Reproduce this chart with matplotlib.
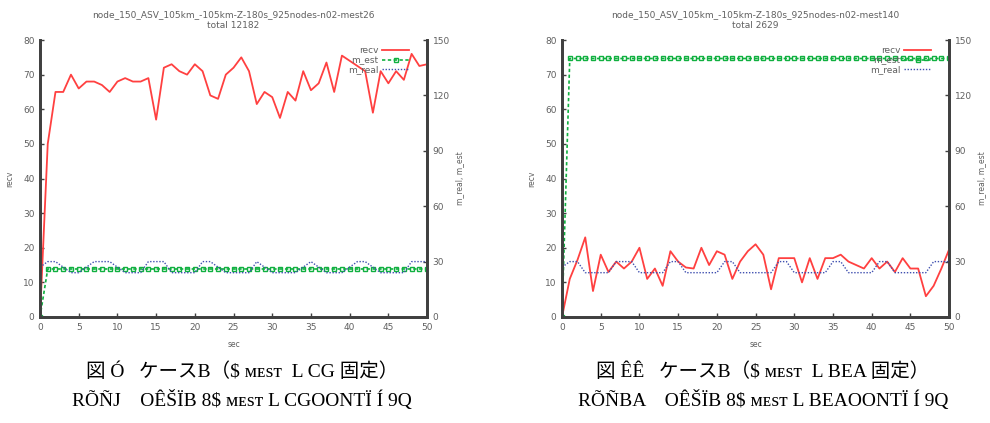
import matplotlib
matplotlib.use("Agg")
import matplotlib.pyplot as plt

sec = list(range(51))

# Left panel (mest26)
recv_a = [0, 50, 65, 65, 70, 66, 68, 68, 67, 65, 68, 69, 68, 68, 69, 57, 72, 73, 71, 70, 73, 71,
          64, 63, 70, 72, 75, 71, 61.5, 65, 63.5, 57.5, 65, 62.5, 71, 65.5, 67.5, 73.5, 65, 75.5,
          74, 72.5, 71, 59, 71, 67.5, 71, 68.5, 76, 72.5, 73]
mest_a = [0] + [26] * 50
mreal_a = [27, 30, 30, 27, 24, 24, 27, 30, 30, 30, 27, 24, 24, 24, 30, 30, 30, 24, 24, 24, 24,
           30, 30, 27, 24, 24, 24, 24, 30, 27, 24, 24, 24, 24, 27, 30, 27, 24, 24, 24, 27, 30,
           30, 27, 24, 24, 24, 24, 30, 30, 30]

# Right panel (mest140)
recv_b = [0, 11, 16.5, 23, 7.5, 18, 13, 16, 14, 16, 20, 11, 14, 9, 19, 16, 14.3, 14, 20, 15, 19,
          18, 11, 16, 19, 21, 18, 8, 17, 17, 17, 10, 17, 11, 17, 17, 18, 16, 15, 14, 17, 14, 16,
          13, 17, 14, 14, 6, 9, 14, 19.5]
mest_b = [0] + [140] * 50
mreal_b = [27, 30, 30, 24, 24, 24, 24, 30, 30, 30, 24, 24, 24, 24, 30, 30, 24, 24, 24, 24, 24,
           30, 30, 24, 24, 24, 24, 24, 30, 30, 24, 24, 24, 24, 24, 30, 30, 24, 24, 24, 24, 30,
           30, 24, 24, 24, 24, 24, 30, 30, 30]

titles = ["node_150_ASV_105km_-105km-Z-180s_925nodes-n02-mest26\ntotal 12182",
          "node_150_ASV_105km_-105km-Z-180s_925nodes-n02-mest140\ntotal 2629"]
captions = [("図 Ó   ケースB（$ ᴍᴇsᴛ  L CG 固定）", "RÕÑJ    OÊŠÏB 8$ ᴍᴇsᴛ L CGOONTÏ Í 9Q"),
            ("図 ÊÊ   ケースB（$ ᴍᴇsᴛ  L BEA 固定）", "RÕÑBA    OÊŠÏB 8$ ᴍᴇsᴛ L BEAOONTÏ Í 9Q")]
caption_x = [0.2444, 0.7707]

fig = plt.figure(figsize=(9.9, 4.23), dpi=100)
spine_c = "#404040"
txt_c = "#606060"
red = "#ff4040"
green = "#10b040"
blue = "#4050b0"

panels = [(0.0404, recv_a, mest_a, mreal_a), (0.5677, recv_b, mest_b, mreal_b)]
for i, (x0, recv, mest, mreal) in enumerate(panels):
    ax = fig.add_axes([x0, 0.2506, 0.391, 0.6548])
    ax2 = ax.twinx()
    l1, = ax.plot(sec, recv, color=red, lw=1.3, label="recv", zorder=3)
    l2, = ax2.plot(sec, mest, color=green, lw=1.2, ls=(0, (2, 1.5)), marker="s",
                   ms=2.5, mfc="none", mew=1.0, label="m_est")
    l3, = ax2.plot(sec, mreal, color=blue, lw=1.0, ls=(0, (1, 1.2)), label="m_real")
    ax.set_xlim(0, 50)
    ax.set_ylim(0, 80)
    ax2.set_ylim(0, 150)
    ax.set_xticks(range(0, 51, 5))
    ax.set_yticks(range(0, 81, 10))
    ax2.set_yticks(range(0, 151, 30))
    for a in (ax, ax2):
        a.spines["top"].set_visible(False)
        for s in ("left", "right", "bottom"):
            a.spines[s].set_color(spine_c)
            a.spines[s].set_linewidth(2)
        a.tick_params(direction="in", length=3, width=1, colors=spine_c,
                      labelcolor=txt_c, labelsize=6.5, pad=4)
    ax.set_xlabel("sec", fontsize=5.5, color=txt_c, labelpad=6)
    ax.set_ylabel("recv", fontsize=5.5, color=txt_c, labelpad=6)
    ax2.set_ylabel("m_real, m_est", fontsize=5.5, color=txt_c, labelpad=4)
    ax.set_title(titles[i], fontsize=6.5, color=txt_c, pad=9, linespacing=1.2)
    ax2.legend(handles=[l1, l2, l3], loc="upper right", bbox_to_anchor=(0.97, 1.0),
               frameon=False, markerfirst=False, fontsize=6.5, labelspacing=0.05,
               handlelength=3.0, handletextpad=0.4, borderpad=0.2,
               labelcolor=txt_c)
    cx = caption_x[i]
    fig.text(cx, 1 - 372 / 423, captions[i][0], ha="center", va="center", fontsize=14,
             family=["Liberation Serif", "Noto Sans CJK JP", "DejaVu Sans"])
    fig.text(cx, 1 - 400 / 423, captions[i][1], ha="center", va="center", fontsize=14,
             family=["Liberation Serif", "Noto Sans CJK JP", "DejaVu Sans"])

fig.savefig("out.png", dpi=100)
